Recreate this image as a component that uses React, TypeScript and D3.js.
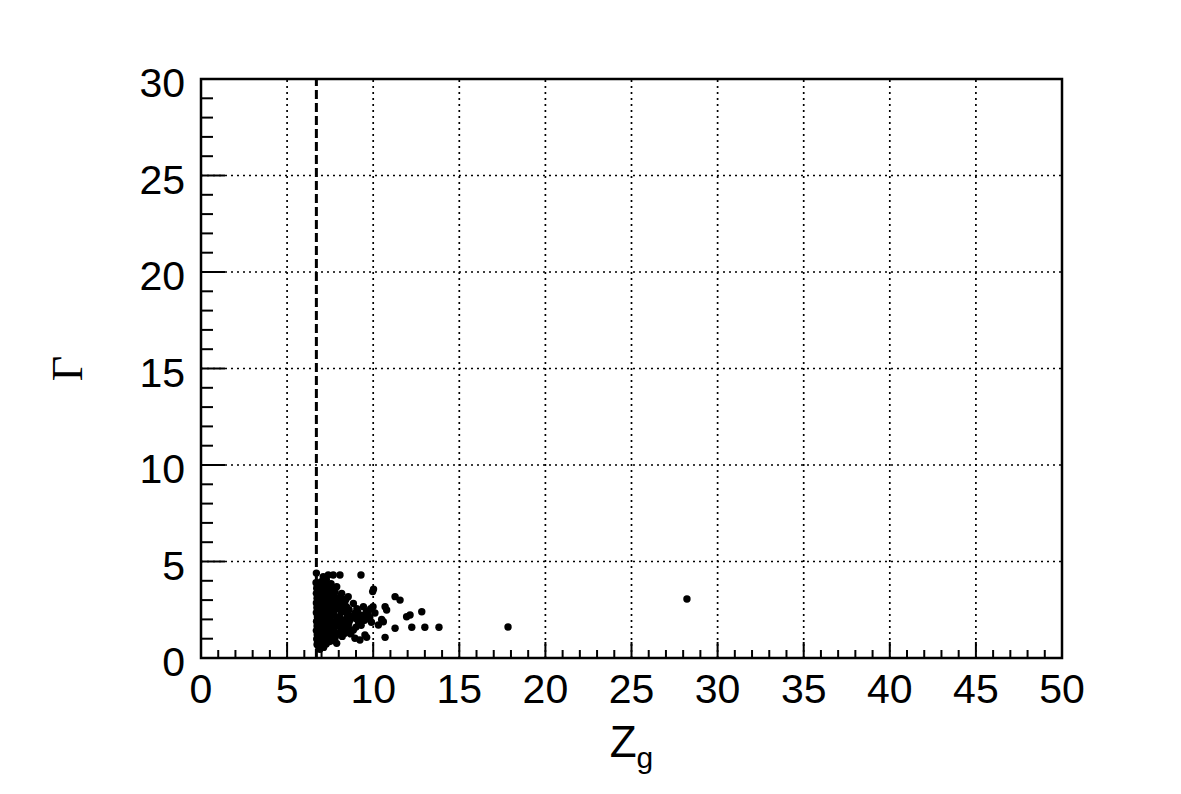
import React, { useEffect, useRef } from 'react';
import * as d3 from 'd3';

// tick values
const X_MAJOR = [0, 5, 10, 15, 20, 25, 30, 35, 40, 45, 50];
const Y_MAJOR = [0, 5, 10, 15, 20, 25, 30];
const X_MINOR = d3.range(0, 51, 1);
const Y_MINOR = d3.range(0, 31, 1);

// threshold line (dashed)
const Z_CUT = 6.7;

// (Z_g, Gamma)
const clusterPoints: [number, number][] = [
  [6.70, 4.40], [6.68, 3.90], [6.72, 3.62], [6.70, 3.35], [6.74, 3.10], [6.70, 2.85], [6.73, 2.60], [6.70, 2.35],
  [6.76, 2.12], [6.71, 1.90], [6.74, 1.66], [6.70, 1.42], [6.75, 1.20], [6.72, 0.98], [6.78, 0.78], [6.82, 0.60],
  [6.90, 0.45], [6.80, 3.78], [6.84, 3.22], [6.83, 2.72], [6.85, 2.25], [6.82, 1.78], [6.86, 1.30], [6.84, 0.88],
  [6.78, 3.48], [6.80, 2.98], [6.79, 2.48], [6.78, 2.02], [6.80, 1.55], [6.79, 1.08], [6.88, 0.70], [6.74, 0.70],
  [7.10, 4.21], [6.98, 3.95], [7.02, 3.70], [6.96, 3.45], [7.05, 3.18], [6.99, 2.95], [7.04, 2.70], [6.97, 2.48],
  [7.06, 2.22], [7.00, 2.00], [7.03, 1.75], [6.98, 1.52], [7.05, 1.28], [7.00, 1.05], [7.08, 0.82], [6.96, 0.62],
  [7.12, 0.55], [7.08, 3.55], [7.12, 2.88], [7.10, 2.40], [7.14, 1.92], [7.10, 1.40], [7.15, 1.00],
  [6.92, 3.30], [6.93, 2.80], [6.92, 2.30], [6.93, 1.85], [6.92, 1.20], [6.94, 0.90], [7.16, 3.35], [7.17, 2.62],
  [7.20, 3.78], [7.28, 4.05], [7.25, 3.50], [7.30, 3.25], [7.22, 3.02], [7.32, 2.78], [7.24, 2.55], [7.30, 2.30],
  [7.22, 2.08], [7.33, 1.85], [7.26, 1.62], [7.31, 1.38], [7.23, 1.15], [7.35, 0.92], [7.27, 0.72], [7.39, 4.30],
  [7.34, 3.62], [7.36, 2.95], [7.38, 2.15], [7.35, 1.55], [7.40, 1.05], [7.19, 1.80], [7.18, 1.28], [7.20, 0.88],
  [7.59, 3.69], [7.68, 4.30], [7.48, 3.40], [7.55, 3.15], [7.47, 2.92], [7.58, 2.70], [7.50, 2.45], [7.56, 2.22],
  [7.48, 2.00], [7.60, 1.78], [7.52, 1.55], [7.57, 1.32], [7.49, 1.10], [7.62, 0.90], [7.55, 3.85], [7.62, 3.00],
  [7.64, 2.38], [7.63, 1.48], [7.45, 3.70], [7.44, 1.70], [7.46, 0.85],
  [7.88, 3.69], [7.78, 3.44], [7.72, 3.20], [7.85, 2.98], [7.75, 2.75], [7.82, 2.52], [7.70, 2.30], [7.88, 2.10],
  [7.76, 1.88], [7.84, 1.65], [7.72, 1.42], [7.86, 1.20], [7.88, 0.76], [7.78, 1.02], [7.92, 2.65], [7.95, 1.92],
  [8.07, 4.30], [8.17, 3.35], [8.05, 3.05], [8.12, 2.82], [8.02, 2.60], [8.15, 2.38], [8.05, 2.15], [8.18, 1.95],
  [8.08, 1.72], [8.14, 1.50], [8.03, 1.28], [8.20, 1.12], [8.10, 3.20], [8.22, 2.55],
  [8.55, 3.18], [8.36, 1.28], [8.55, 1.62], [8.65, 1.97], [8.35, 2.90], [8.45, 2.65], [8.32, 2.42], [8.50, 2.22],
  [8.40, 2.00], [8.58, 1.80], [8.30, 1.75], [8.45, 1.45], [8.60, 2.50], [8.42, 3.05],
  [8.85, 2.83], [8.94, 2.32], [9.23, 2.14], [9.62, 2.06], [8.85, 1.45], [8.94, 1.02], [9.23, 0.93], [9.43, 2.66],
  [9.00, 2.05], [9.15, 1.85], [9.35, 2.20], [9.50, 1.95], [8.75, 2.15], [9.05, 2.55], [9.29, 4.30], [9.70, 2.33],
  [9.43, 1.97], [9.52, 1.19], [9.62, 1.07], [9.10, 2.40], [9.30, 1.70], [9.60, 2.40], [9.80, 2.10], [9.90, 1.85],
  [9.00, 1.60], [8.70, 1.25], [9.85, 2.55],
];

const tailPoints: [number, number][] = [
  [10.02, 3.57], [9.97, 3.44], [11.27, 3.18], [11.56, 3.00], [9.99, 2.66], [10.69, 2.66], [10.78, 2.49],
  [10.10, 2.33], [12.82, 2.40], [11.94, 2.14], [12.14, 2.23], [10.49, 2.00], [10.59, 1.88], [10.30, 1.71],
  [11.27, 1.54], [12.24, 1.59], [13.00, 1.59], [13.82, 1.59], [10.69, 1.07], [17.83, 1.61], [28.22, 3.06],
];

const W = 1181;
const H = 794;
const FONT = "'Liberation Sans', Arial, Helvetica, sans-serif";

export default function App() {
  const svgRef = useRef<SVGSVGElement>(null);

  useEffect(() => {
    document.body.style.margin = '0';
    if (!svgRef.current) return;
    const margin = { top: 79, right: W - 1062, bottom: H - 658, left: 201 };
    const svg = d3.select(svgRef.current);
    svg.selectAll('*').remove();

    const x = d3.scaleLinear().domain([0, 50]).range([margin.left, W - margin.right]);
    const y = d3.scaleLinear().domain([0, 30]).range([H - margin.bottom, margin.top]);
    const [x0, x1] = x.range();
    const [y0, y1] = y.range();

    svg.append('rect').attr('width', W).attr('height', H).attr('fill', '#fff');

    // Grid
    const grid = svg.append('g').attr('stroke', '#000').attr('stroke-width', 1.7).attr('stroke-dasharray', '2 4');
    grid
      .selectAll('.gx')
      .data(X_MAJOR.slice(1, -1))
      .join('line')
      .attr('x1', (d) => x(d))
      .attr('x2', (d) => x(d))
      .attr('y1', y0)
      .attr('y2', y1);
    grid
      .selectAll('.gy')
      .data(Y_MAJOR.slice(1, -1))
      .join('line')
      .attr('x1', x0)
      .attr('x2', x1)
      .attr('y1', (d) => y(d))
      .attr('y2', (d) => y(d));

    // Cut line
    svg
      .append('line')
      .attr('x1', x(Z_CUT))
      .attr('x2', x(Z_CUT))
      .attr('y1', y0)
      .attr('y2', y1)
      .attr('stroke', '#000')
      .attr('stroke-width', 3)
      .attr('stroke-dasharray', '9 4');

    // Points
    svg
      .append('g')
      .selectAll('circle')
      .data([...clusterPoints, ...tailPoints])
      .join('circle')
      .attr('cx', (d) => x(d[0]))
      .attr('cy', (d) => y(d[1]))
      .attr('r', 3.7)
      .attr('fill', '#000');

    // Ticks (inside)
    const ticks = svg.append('g').attr('stroke', '#000').attr('stroke-width', 2);
    ticks
      .selectAll('.tx')
      .data(X_MINOR)
      .join('line')
      .attr('x1', (d) => x(d))
      .attr('x2', (d) => x(d))
      .attr('y1', y0)
      .attr('y2', (d) => y0 - (d % 5 === 0 ? 16 : 8));
    ticks
      .selectAll('.ty')
      .data(Y_MINOR)
      .join('line')
      .attr('y1', (d) => y(d))
      .attr('y2', (d) => y(d))
      .attr('x1', x0)
      .attr('x2', (d) => x0 + (d % 5 === 0 ? 24 : 12));

    // Frame
    svg
      .append('rect')
      .attr('x', x0)
      .attr('y', y1)
      .attr('width', x1 - x0)
      .attr('height', y0 - y1)
      .attr('fill', 'none')
      .attr('stroke', '#000')
      .attr('stroke-width', 2.5);

    // Tick labels
    svg
      .append('g')
      .selectAll('text')
      .data(X_MAJOR)
      .join('text')
      .attr('x', (d) => x(d))
      .attr('y', y0 + 45)
      .attr('text-anchor', 'middle')
      .attr('font-family', FONT)
      .attr('font-size', 41)
      .text((d) => d);
    svg
      .append('g')
      .selectAll('text')
      .data(Y_MAJOR)
      .join('text')
      .attr('x', x0 - 16)
      .attr('y', (d) => y(d) + 18)
      .attr('text-anchor', 'end')
      .attr('font-family', FONT)
      .attr('font-size', 41)
      .text((d) => d);

    // Axis titles
    const xt = svg
      .append('text')
      .attr('x', (x0 + x1) / 2)
      .attr('y', 757)
      .attr('text-anchor', 'middle')
      .attr('font-family', FONT)
      .attr('font-size', 44);
    xt.append('tspan').text('Z');
    xt.append('tspan').attr('font-size', 30).attr('dy', 11).text('g');

    svg
      .append('text')
      .attr('transform', `translate(82,${(y0 + y1) / 2}) rotate(-90)`)
      .attr('text-anchor', 'middle')
      .attr('font-family', "'Liberation Serif', 'DejaVu Serif', serif")
      .attr('font-size', 44)
      .text('Γ');
  }, []);

  return <svg ref={svgRef} width={W} height={H} style={{ display: 'block' }} />;
}
